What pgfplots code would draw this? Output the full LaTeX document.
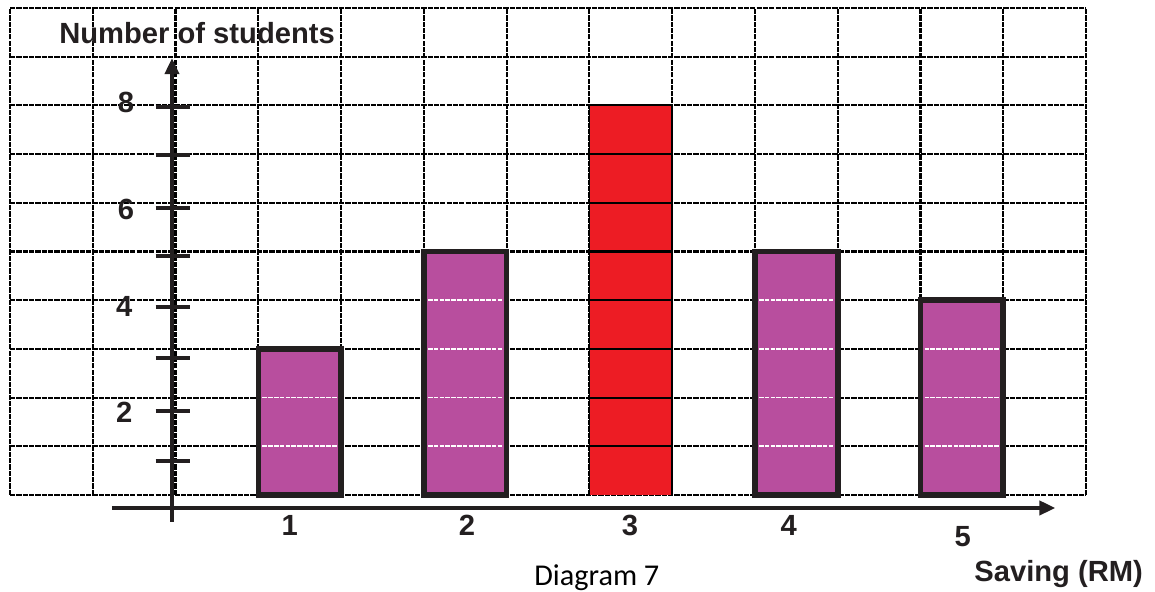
\documentclass[border=0pt]{standalone}
\usepackage{pgfplots}
\pgfplotsset{compat=1.18}
\usepackage{fontspec}
\setmainfont{Liberation Sans}
\newfontfamily\calibri{Carlito}
\usetikzlibrary{arrows.meta}
\definecolor{barpurple}{RGB}{184,78,158}
\definecolor{barred}{RGB}{237,28,36}
\definecolor{ink}{RGB}{35,31,32}
\tikzset{gridl/.style={black, line width=0.6pt, dash pattern=on 1.5pt off 0.3pt}}
\begin{document}
\begin{tikzpicture}
\begin{axis}[
  scale only axis, width=11.55cm, height=5.92cm,
  xmin=-0.121, xmax=13.834, ymin=-1.992, ymax=10.164,
  axis lines=none, clip=false,
]
% fix the bounding box to the full axis area
\path (rel axis cs:0,0) rectangle (rel axis cs:1,1);
% background grid
\pgfplotsinvokeforeach{0,...,13}{\draw[gridl] (axis cs:#1,0) -- (axis cs:#1,10);}
\pgfplotsinvokeforeach{0,...,10}{\draw[gridl] (axis cs:0,#1) -- (axis cs:13,#1);}
% bars
\addplot[ybar, bar width=1, bar shift=0pt, fill=barpurple, draw=ink, line width=1.6pt]
  coordinates {(3.5,3) (5.5,5) (9.5,5) (11.5,4)};
\addplot[ybar, bar width=1, bar shift=0pt, fill=barred, draw=none]
  coordinates {(7.5,8)};
% grid lines over bars
\tikzset{wgrid/.style={white, line width=0.45pt, dash pattern=on 1.3pt off 0.35pt}}
\pgfplotsinvokeforeach{1,2}{\draw[wgrid] (axis cs:3.05,#1) -- (axis cs:3.95,#1);}
\pgfplotsinvokeforeach{1,...,4}{\draw[wgrid] (axis cs:5.05,#1) -- (axis cs:5.95,#1);}
\pgfplotsinvokeforeach{1,...,4}{\draw[wgrid] (axis cs:9.05,#1) -- (axis cs:9.95,#1);}
\pgfplotsinvokeforeach{1,...,3}{\draw[wgrid] (axis cs:11.05,#1) -- (axis cs:11.95,#1);}
\pgfplotsinvokeforeach{1,...,8}{\draw[black, line width=0.6pt] (axis cs:7,#1) -- (axis cs:8,#1);}
\draw[black, line width=0.5pt] (axis cs:7,0) -- (axis cs:7,8);
\draw[black, line width=0.5pt] (axis cs:8,0) -- (axis cs:8,8);
% y axis
\draw[ink, line width=1.2pt, -{Triangle[length=1.6mm,width=1.4mm]}] (axis cs:1.957,-0.55) -- (axis cs:1.957,8.97);
\pgfplotsinvokeforeach{0.70,1.72,2.81,3.86,4.91,5.89,6.98,7.97}{\draw[ink, line width=1.2pt] (axis cs:1.76,#1) -- (axis cs:2.17,#1);}
% x axis
\draw[ink, line width=1.2pt, -{Triangle[length=1.6mm,width=1.4mm]}] (axis cs:1.23,-0.267) -- (axis cs:12.63,-0.267);
% labels
\begin{scope}[every node/.style={font=\fontsize{8.3}{10}\selectfont\bfseries, text=ink, inner sep=0pt}]
\node at (axis cs:1.40,8.05) {8};
\node at (axis cs:1.40,5.86) {6};
\node at (axis cs:1.38,3.87) {4};
\node at (axis cs:1.38,1.70) {2};
\node at (axis cs:3.38,-0.62) {1};
\node at (axis cs:5.52,-0.62) {2};
\node at (axis cs:7.49,-0.62) {3};
\node at (axis cs:9.41,-0.62) {4};
\node at (axis cs:11.51,-0.86) {5};
\node at (axis cs:2.26,9.49) {Number of students};
\node at (axis cs:12.67,-1.62) {Saving (RM)};
\end{scope}
\node[font=\calibri\fontsize{8.6}{10}\selectfont, inner sep=0pt] at (axis cs:7.09,-1.70) {Diagram 7};
\end{axis}
\end{tikzpicture}
\end{document}
